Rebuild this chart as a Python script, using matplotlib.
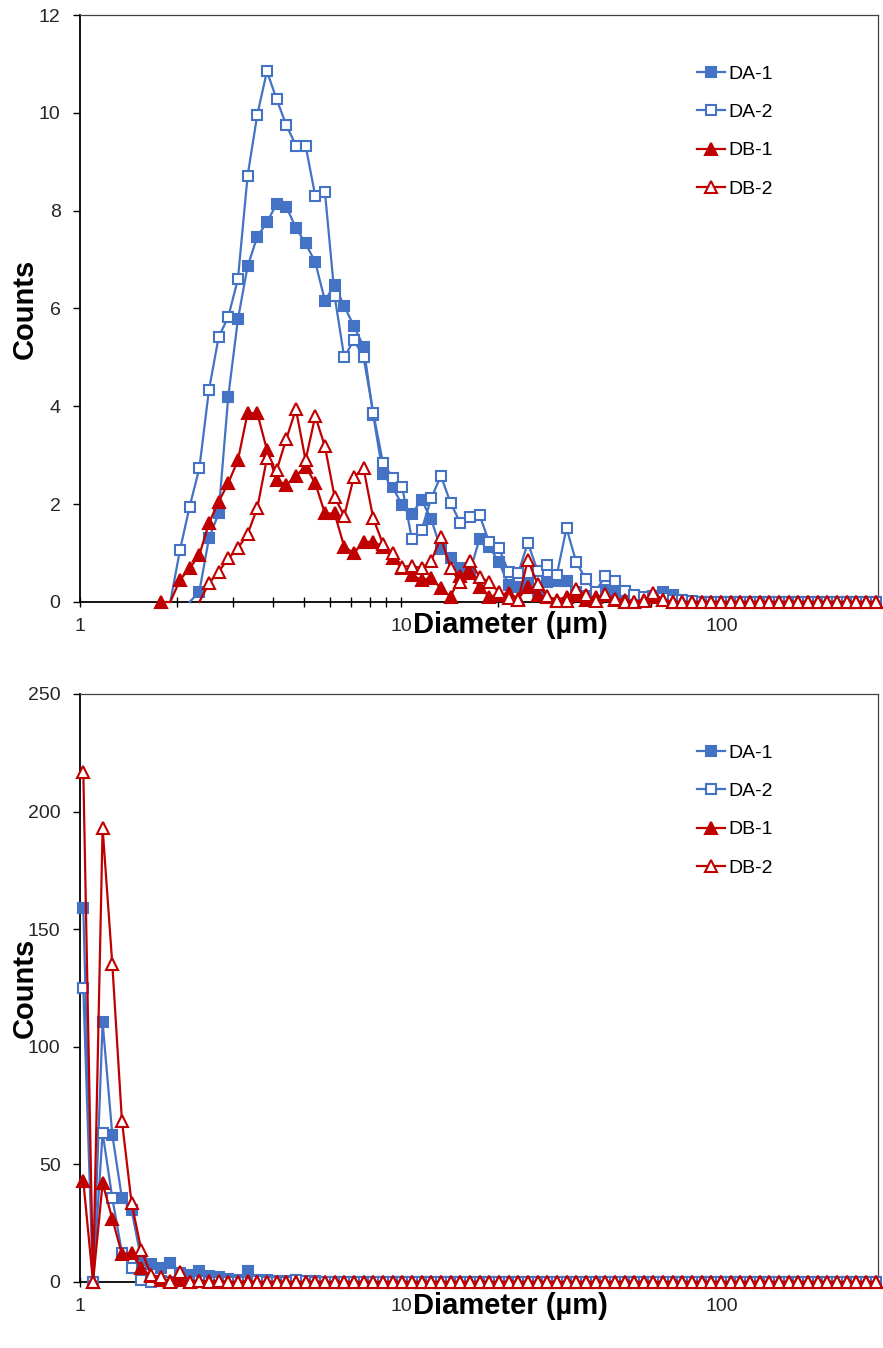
import numpy as np
import matplotlib
matplotlib.use('Agg')
import matplotlib.pyplot as plt
from matplotlib.ticker import LogLocator, NullFormatter, FixedLocator, FixedFormatter

plt.rcParams['font.family'] = ['Liberation Sans', 'DejaVu Sans']

nan = np.nan

# Particle diameter bins (µm)
diameter = [1.024, 1.098, 1.176, 1.261, 1.351, 1.448, 1.552, 1.664, 1.783, 1.911,
            2.048, 2.195, 2.353, 2.521, 2.702, 2.896, 3.104, 3.327, 3.566, 3.822,
            4.096, 4.390, 4.705, 5.043, 5.405, 5.793, 6.209, 6.654, 7.132, 7.644,
            8.192, 8.780, 9.410, 10.086, 10.810, 11.586, 12.417, 13.308, 14.263, 15.287,
            16.384, 17.560, 18.821, 20.172, 21.620, 23.172, 24.835, 26.617, 28.527, 30.575,
            32.768, 35.120, 37.641, 40.343, 43.239, 46.344, 49.669, 53.233, 57.054, 61.149,
            65.536, 70.240, 75.281, 80.686, 86.478, 92.688, 99.338, 106.47, 114.11, 122.30,
            131.07, 140.48, 150.56, 161.37, 172.96, 185.38, 198.68, 212.93, 228.22, 244.60,
            262.14, 280.96, 301.13]

labels = ['DA-1', 'DA-2', 'DB-1', 'DB-2']

# ---- Top panel counts ----
top_da1 = ([nan] * 11 + [0.0, 0.21, 1.30, 1.81, 4.20, 5.78, 6.86, 7.47, 7.76, 8.14,
           8.08, 7.65, 7.33, 6.95, 6.16, 6.48, 6.05, 5.64, 5.22, 3.82,
           2.62, 2.35, 1.98, 1.80, 2.09, 1.69, 1.08, 0.89, 0.69, 0.62,
           1.29, 1.13, 0.82, 0.35, 0.31, 0.39, 0.22, 0.40, 0.42, 0.42,
           0.20, 0.12, 0.15, 0.25, 0.20, 0.12, 0.10, 0.05, 0.12, 0.20,
           0.15, 0.05] + [0.0] * 20)
top_da2 = ([nan] * 9 + [0.0, 1.06, 1.95, 2.73, 4.33, 5.41, 5.83, 6.60, 8.71, 9.96,
           10.85, 10.28, 9.75, 9.33, 9.33, 8.30, 8.39, 6.26, 5.00, 5.36,
           5.00, 3.87, 2.85, 2.54, 2.35, 1.28, 1.47, 2.12, 2.58, 2.03,
           1.62, 1.74, 1.78, 1.22, 1.10, 0.62, 0.59, 1.21, 0.64, 0.75,
           0.56, 1.51, 0.82, 0.46, 0.21, 0.53, 0.42, 0.22, 0.14, 0.11,
           0.10, 0.08, 0.05, 0.05, 0.03] + [0.0] * 19)
top_db1 = ([nan] * 8 + [0.0, 0.0, 0.45, 0.69, 0.96, 1.61, 2.05, 2.43, 2.90, 3.86,
           3.86, 3.11, 2.49, 2.39, 2.58, 2.77, 2.43, 1.81, 1.81, 1.13,
           1.00, 1.23, 1.23, 1.13, 0.89, 0.69, 0.55, 0.45, 0.49, 0.28,
           0.11, 0.53, 0.60, 0.31, 0.11, 0.15, 0.18, 0.07, 0.31, 0.14,
           0.10, 0.05, 0.10, 0.15, 0.05, 0.10, 0.15, 0.05, 0.05, 0.0,
           0.05, 0.10, 0.05] + [0.0] * 22)
top_db2 = ([nan] * 12 + [0.0, 0.38, 0.62, 0.89, 1.10, 1.39, 1.92, 2.94, 2.69, 3.33,
           3.94, 2.90, 3.80, 3.18, 2.15, 1.76, 2.56, 2.73, 1.71, 1.19,
           1.00, 0.72, 0.74, 0.69, 0.84, 1.32, 0.69, 0.40, 0.83, 0.52,
           0.40, 0.21, 0.08, 0.05, 0.86, 0.37, 0.12, 0.03, 0.02, 0.26,
           0.14, 0.02, 0.17, 0.06, 0.0, 0.0, 0.02, 0.18, 0.05] + [0.0] * 22)

# ---- Bottom panel counts ----
bot_da1 = [159.0, 0.0, 110.5, 62.5, 35.6, 30.5, 9.4, 7.5, 6.0, 8.2,
           4.0, 3.0, 4.5, 2.5, 2.0, 1.3, 0.8, 4.8, 1.0, 0.8,
           0.5, 0.5, 1.0, 0.5, 0.3] + [0.0] * 58
bot_da2 = [125.0, 0.0, 63.5, 35.6, 12.5, 6.0, 1.0, 0.0, 0.5, 0.0,
           0.5, 0.0, 0.3, 0.0, 0.0, 0.0, 0.0, 0.0, 0.3, 0.0,
           0.0, 0.0, 0.8, 0.5] + [0.0] * 59
bot_db1 = [43.0, 0.0, 42.0, 26.8, 11.9, 12.3, 5.9, 2.5, 1.0, 0.5,
           1.0, 0.0, 0.5, 0.3, 0.0, 0.0, 0.0, 0.3] + [0.0] * 65
bot_db2 = [217.0, 0.0, 193.0, 135.0, 68.5, 33.5, 13.6, 3.0, 2.0, 0.0,
           4.3, 0.0, 0.5, 0.0, 0.5] + [0.0] * 68

BLUE = '#4472C4'
RED = '#C00000'
styles = [dict(color=BLUE, marker='s', mfc=BLUE, ms=7.5),
          dict(color=BLUE, marker='s', mfc='white', ms=7.5),
          dict(color=RED, marker='^', mfc=RED, ms=8.0),
          dict(color=RED, marker='^', mfc='white', ms=8.0)]
# leading zero points drawn without marker in the top panel
top_hidden = [[11], [9], [9], [12]]

W, H = 883, 1348
fig = plt.figure(figsize=(W / 100, H / 100), dpi=100)


def axes_px(left, top, right, bottom):
    return fig.add_axes([left / W, 1 - bottom / H, (right - left) / W, (bottom - top) / H])


ax1 = axes_px(80, 15, 878, 602)
ax2 = axes_px(80, 694, 878, 1282)

x = np.array(diameter)


def draw(ax, series, hidden, ymax, ystep):
    for k, (vals, st) in enumerate(zip(series, styles)):
        y = np.array(vals, dtype=float)
        idx = [i for i in range(len(y)) if np.isfinite(y[i]) and (hidden is None or i not in hidden[k])]
        ax.plot(x, y, color=st['color'], lw=1.6, marker=st['marker'], ms=st['ms'],
                mfc=st['mfc'], mec=st['color'], mew=1.5, markevery=idx,
                label=labels[k], clip_on=False, zorder=3 + k)
    ax.set_xscale('log')
    ax.set_xlim(1, 306)
    ax.set_ylim(0, ymax)
    ax.set_yticks(np.arange(0, ymax + 0.1, ystep))
    ax.xaxis.set_major_locator(FixedLocator([1, 10, 100]))
    ax.xaxis.set_major_formatter(FixedFormatter(['1', '10', '100']))
    ax.xaxis.set_minor_locator(LogLocator(base=10, subs=np.arange(2, 10)))
    ax.xaxis.set_minor_formatter(NullFormatter())
    ax.tick_params(axis='x', which='both', direction='inout', length=7, width=1.0,
                   labelsize=14, pad=8, labelcolor='#262626')
    ax.tick_params(axis='y', which='major', direction='out', length=5, width=1.0,
                   labelsize=14, pad=9, labelcolor='#262626')
    for s in ['left', 'bottom']:
        ax.spines[s].set_linewidth(1.3)
        ax.spines[s].set_color('black')
    for s in ['top', 'right']:
        ax.spines[s].set_linewidth(0.9)
        ax.spines[s].set_color('#404040')
    ax.set_ylabel('Counts', fontsize=21, fontweight='bold')
    ax.yaxis.set_label_coords(-0.052, 0.5)
    ax.text(0.540, -0.040, 'Diameter (\u00b5m)', transform=ax.transAxes, ha='center',
            va='center', fontsize=21, fontweight='bold', zorder=10)
    ax.legend(loc='upper left', bbox_to_anchor=(0.773, 0.915), frameon=False,
              fontsize=14, handlelength=1.45, handletextpad=0.15, labelspacing=1.07,
              borderpad=0, borderaxespad=0)


draw(ax1, [top_da1, top_da2, top_db1, top_db2], top_hidden, 12, 2)
draw(ax2, [bot_da1, bot_da2, bot_db1, bot_db2], None, 250, 50)

fig.savefig('out.png', dpi=100)
